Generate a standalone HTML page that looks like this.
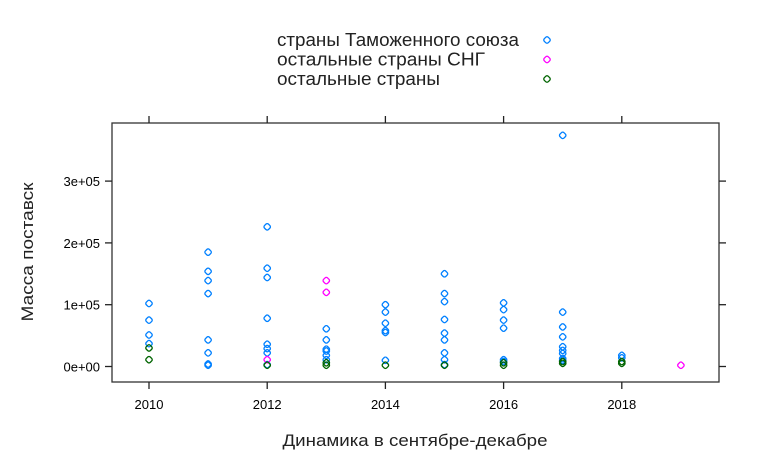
<!DOCTYPE html>
<html><head><meta charset="utf-8"><style>
body{margin:0;background:#fff;}
svg{display:block;font-family:"Liberation Sans",Arial,sans-serif;}
</style></head><body>
<svg id="chart" width="762" height="456">
<g id="legend"></g>
<g id="axes"></g>
<g id="points"></g>
<text x="415" y="446" text-anchor="middle" font-size="17" textLength="265" lengthAdjust="spacingAndGlyphs" fill="#222">Динамика в сентябре-декабре</text>
<text transform="translate(33,252) rotate(-90)" text-anchor="middle" font-size="17" textLength="139" lengthAdjust="spacingAndGlyphs" fill="#222">Масса поставск</text>
</svg>
<script>
const seriesNames = ["страны Таможенного союза","остальные страны СНГ","остальные страны"];
const seriesColors = ["#0080ff","#ff00ff","#006400"];
const xTicks = [2010,2012,2014,2016,2018];
const yTicks = [0,100000,200000,300000];
const yTickLabels = ["0e+00","1e+05","2e+05","3e+05"];
const tsYears = [2010,2010,2010,2010,2011,2011,2011,2011,2011,2011,2011,2011,2012,2012,2012,2012,2012,2012,2012,2012,2013,2013,2013,2013,2013,2013,2014,2014,2014,2014,2014,2014,2015,2015,2015,2015,2015,2015,2015,2015,2015,2016,2016,2016,2016,2016,2016,2017,2017,2017,2017,2017,2017,2017,2017,2017,2018,2018];
const tsValues = [102000,75000,51000,37000,185000,154000,139000,118000,43000,22000,4000,2000,226000,159000,144000,78000,36000,29000,22000,3000,61000,43000,28000,25000,18000,11000,100000,88000,70000,58000,55000,10000,150000,118000,105000,76000,54000,43000,22000,11000,3000,103000,92000,75000,62000,11000,8000,374000,88000,64000,48000,32000,26000,21000,13000,10000,18000,14000];
const cisYears = [2012,2013,2013,2019];
const cisValues = [11000,139000,120000,2000];
const otherYears = [2010,2010,2012,2013,2013,2014,2015,2016,2016,2017,2017,2018,2018];
const otherValues = [30000,11000,2000,6000,2000,2000,2000,6000,2000,8000,5000,8000,5000];

const NS="http://www.w3.org/2000/svg";
const L=112,R=719,T=123,B=382;
const xs=y=>149+(y-2010)*59.1;
const ys=v=>366.5-v*0.000618;
function mk(tag,attrs,parent){const e=document.createElementNS(NS,tag);for(const k in attrs)e.setAttribute(k,attrs[k]);parent.appendChild(e);return e;}
const axes=document.getElementById('axes');
const frame=mk('rect',{x:L,y:T,width:R-L,height:B-T,fill:'none',stroke:'#333','stroke-width':1.3},axes);


xTicks.forEach(t=>{
  const x=xs(t);
  const a=mk('line',{x1:x,x2:x,y1:B,y2:B+7,stroke:'#222','stroke-width':1.3},axes);
  
  
  const b=mk('line',{x1:x,x2:x,y1:T,y2:T-7,stroke:'#222','stroke-width':1.3},axes);
  
  
  const tx=mk('text',{x:x,y:B+27,'text-anchor':'middle','font-size':13,fill:'#000'},axes);
  tx.textContent=t;
  
  
});
yTicks.forEach((t,i)=>{
  const y=ys(t);
  const a=mk('line',{x1:L,x2:L-7,y1:y,y2:y,stroke:'#222','stroke-width':1.3},axes);
  
  
  const b=mk('line',{x1:R,x2:R+7,y1:y,y2:y,stroke:'#222','stroke-width':1.3},axes);
  
  
  const tx=mk('text',{x:L-12,y:y+5,'text-anchor':'end','font-size':13,fill:'#000'},axes);
  tx.textContent=yTickLabels[i];
  
  
});
const pts=document.getElementById('points');
function marker(x,y,c,parent){
  return mk('rect',{x:x-2.8,y:y-2.8,width:5.6,height:5.6,rx:1.8,transform:`rotate(45 ${x} ${y})`,fill:'none',stroke:c,'stroke-width':1.3},parent);
}
[[tsYears,tsValues,0],[cisYears,cisValues,1],[otherYears,otherValues,2]].forEach(([yrs,vals,s])=>{
  yrs.forEach((yr,i)=>{
    const d=marker(xs(yr),ys(vals[i]),seriesColors[s],pts);
    
    
  });
});
const legendWidths=[242,208,163];
const lg=document.getElementById('legend');
seriesNames.forEach((n,i)=>{
  const y=40+i*19.5;
  const t=mk('text',{x:277,y:y+6,'font-size':18,fill:'#222',textLength:legendWidths[i],lengthAdjust:'spacingAndGlyphs'},lg);
  t.textContent=n;
  
  
  const d=marker(547,y,seriesColors[i],lg);
  
  
});
</script>
</body></html>
